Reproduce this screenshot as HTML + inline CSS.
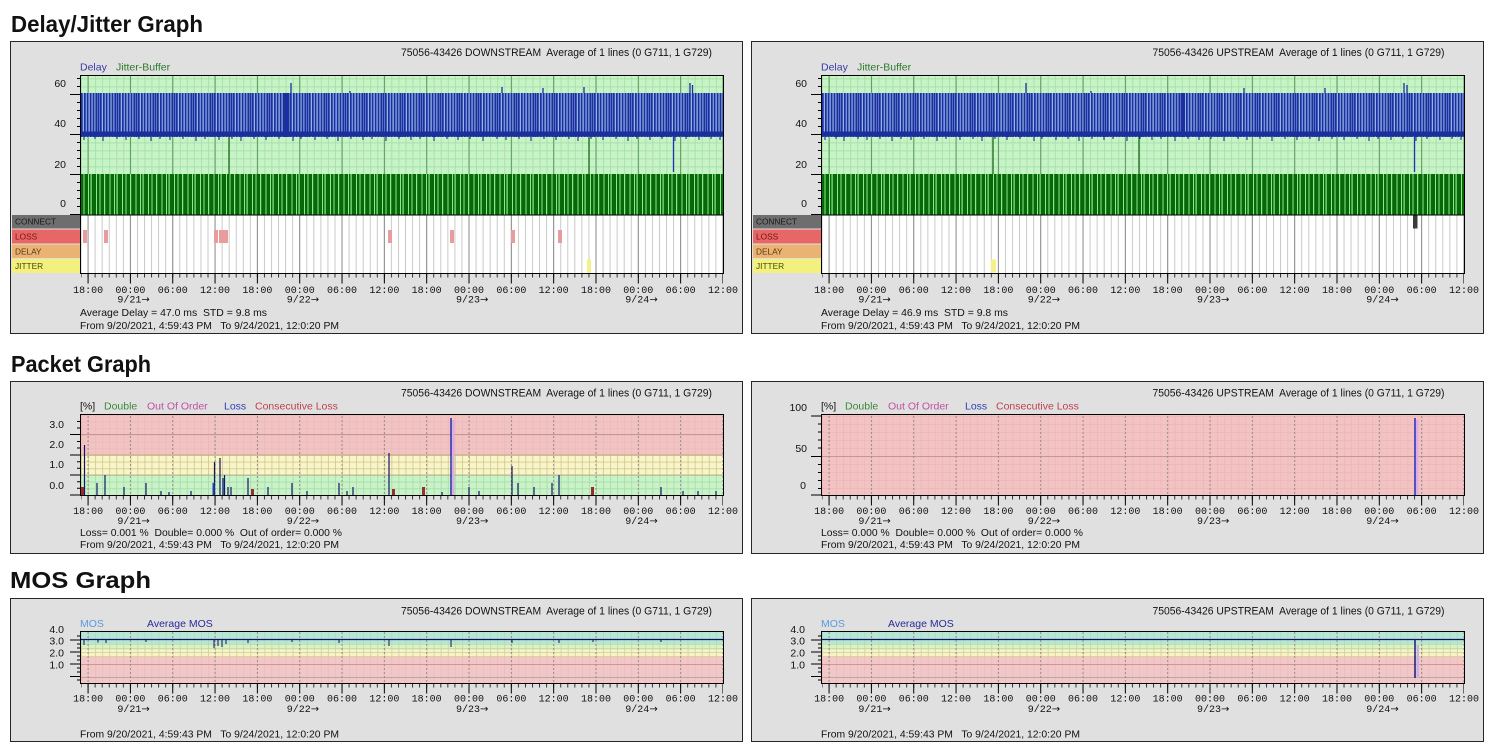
<!DOCTYPE html>
<html><head><meta charset="utf-8">
<style>
html,body{margin:0;padding:0;background:#fff;width:1494px;height:751px;overflow:hidden}
svg{display:block}
text{font-family:"Liberation Sans",Arial,sans-serif;font-size:10.5px;white-space:pre}
.t{font-weight:bold;font-size:23.5px}
.m text{font-family:"Liberation Mono","DejaVu Sans Mono",monospace;font-size:10px}
.ar{font-family:"DejaVu Sans","Liberation Sans",sans-serif;font-size:10px}
.hd{font-size:11px}
.sl{font-size:8.3px}
</style></head><body>
<svg width="1494" height="751" viewBox="0 0 1494 751" xmlns="http://www.w3.org/2000/svg">
<defs>
<pattern id="gG" patternUnits="userSpaceOnUse" x="81.03" y="78.5" width="7.0542" height="8"><rect width="8" height="8" fill="#c6f4c6"/><rect width="0.8" height="8" fill="#a6dca6"/><rect width="8" height="0.8" fill="#a6dca6"/></pattern>
<pattern id="mG" patternUnits="userSpaceOnUse" x="87.58" y="0" width="42.3252" height="10"><rect width="1" height="10" fill="#5c9a5c"/></pattern>
<pattern id="mS" patternUnits="userSpaceOnUse" x="87.58" y="0" width="42.3252" height="10"><rect width="1" height="10" fill="#8c8c8c"/></pattern>
<pattern id="mK" patternUnits="userSpaceOnUse" x="87.58" y="0" width="42.3252" height="10"><rect width="1" height="10" fill="#000"/></pattern>
<pattern id="mD" patternUnits="userSpaceOnUse" x="87.58" y="0" width="42.3252" height="4"><rect width="1" height="2" fill="#9c8c8c"/></pattern>
<pattern id="hS" patternUnits="userSpaceOnUse" x="80.53" y="0" width="7.0542" height="10"><rect width="1" height="10" fill="#c9c9c9"/></pattern>
<pattern id="hK" patternUnits="userSpaceOnUse" x="80.53" y="0" width="7.0542" height="10"><rect width="1" height="10" fill="#333"/></pattern>
<pattern id="gR" patternUnits="userSpaceOnUse" x="81.03" y="415" width="7.0542" height="6.67"><rect width="8" height="8" fill="#f2c3c3"/><rect width="0.7" height="8" fill="#ebb8b8"/><rect width="8" height="0.7" fill="#ebb8b8"/></pattern>
<pattern id="gY" patternUnits="userSpaceOnUse" x="81.03" y="455" width="7.0542" height="6.67"><rect width="8" height="8" fill="#f8f5c8"/><rect width="0.8" height="8" fill="#d2c58e"/><rect width="8" height="0.8" fill="#d2c58e"/></pattern>
<pattern id="gP" patternUnits="userSpaceOnUse" x="81.03" y="475" width="7.0542" height="6.67"><rect width="8" height="8" fill="#c7f3c7"/><rect width="0.8" height="8" fill="#a9d9a9"/><rect width="8" height="0.8" fill="#a9d9a9"/></pattern>
<pattern id="gR2" patternUnits="userSpaceOnUse" x="81.03" y="416" width="7.0542" height="8"><rect width="8" height="8" fill="#f3c3c3"/><rect width="0.7" height="8" fill="#eab6b6"/><rect width="8" height="0.7" fill="#eab6b6"/></pattern>
<pattern id="gMT" patternUnits="userSpaceOnUse" x="81.03" y="632" width="7.0542" height="4"><rect width="8" height="4" fill="#b7e7d4"/><rect width="0.7" height="4" fill="#a6d9c4"/></pattern>
<pattern id="gMG" patternUnits="userSpaceOnUse" x="81.03" y="644" width="7.0542" height="4"><rect width="8" height="4" fill="#dcf1c4"/><rect width="0.8" height="4" fill="#c2d8a4"/><rect width="8" height="0.8" fill="#c2d8a4"/></pattern>
<pattern id="gMY" patternUnits="userSpaceOnUse" x="81.03" y="644" width="7.0542" height="4"><rect width="8" height="4" fill="#f6f3c6"/><rect width="0.8" height="4" fill="#d8cc98"/><rect width="8" height="0.8" fill="#d8cc98"/></pattern>
<pattern id="gMP" patternUnits="userSpaceOnUse" x="81.03" y="657" width="7.0542" height="4"><rect width="8" height="4" fill="#f1c7c7"/><rect width="0.6" height="4" fill="#e9baba"/></pattern>
<pattern id="bl" patternUnits="userSpaceOnUse" x="81" y="0" width="19" height="10"><rect width="19" height="10" fill="#a9cdf3"/><path d="M0.8 0V10M3.8 0V10M6.6 0V10M9.6 0V10M12.5 0V10M15.3 0V10M17.6 0V10" stroke="#1b2f9e" stroke-width="1.9"/></pattern>
<pattern id="jt" patternUnits="userSpaceOnUse" x="81" y="0" width="26" height="10"><rect width="26" height="10" fill="#066806"/><rect x="2.5" width="1" height="10" fill="#8ee88e"/><rect x="7" width="1" height="10" fill="#8ee88e"/><rect x="9.5" width="1.2" height="10" fill="#8ee88e"/><rect x="15" width="1" height="10" fill="#8ee88e"/><rect x="18.5" width="1" height="10" fill="#8ee88e"/><rect x="23" width="1.2" height="10" fill="#8ee88e"/></pattern>

<g id="dBase">
<rect x="10.5" y="41.5" width="732" height="292" fill="#e0e0e0" stroke="#262626"/>
<rect x="81" y="76" width="642" height="139" fill="url(#gG)"/>
<rect x="81" y="76" width="642" height="139" fill="url(#mG)"/>
<rect x="81" y="93" width="642" height="44" fill="url(#bl)"/>
<rect x="81" y="131.5" width="642" height="5" fill="#1d2f9c"/>
<path d="M84 136v4M95 136v3M103 136v5M117 136v3M126 136v4M139 136v3M151 136v5M160 136v3M170 136v4M183 136v3M196 136v5M205 136v3M219 136v4M232 136v3M241 136v5M254 136v3M266 136v4M279 136v3M293 136v5M301 136v3M315 136v4M327 136v3M338 136v5M351 136v3M363 136v4M372 136v3M386 136v5M399 136v3M411 136v4M420 136v3M434 136v5M447 136v3M458 136v4M470 136v3M483 136v5M497 136v3M506 136v4M519 136v3M531 136v5M544 136v3M556 136v4M569 136v3M578 136v5M591 136v3M603 136v4M616 136v3M628 136v5M637 136v3M650 136v4M662 136v3M675 136v5M686 136v3M699 136v4M711 136v3M720 136v4" stroke="#1d2f9c" stroke-width="1.1"/>
<rect x="81" y="174" width="642" height="41" fill="url(#jt)"/>
<rect x="81" y="215" width="642" height="58" fill="#fff"/>
<rect x="81" y="215" width="642" height="58" fill="url(#hS)"/>
<rect x="81" y="215" width="642" height="58" fill="url(#mS)"/>
<rect x="12" y="215" width="68" height="13.5" fill="#6e6e6e"/>
<rect x="12" y="229.5" width="68" height="14" fill="#e76767"/>
<rect x="12" y="244.5" width="68" height="13.5" fill="#ebb373"/>
<rect x="12" y="259" width="68" height="14" fill="#f3f17e"/>
<rect x="80.5" y="75.5" width="643" height="198" fill="none" stroke="#000"/>
<path d="M81 215H723" stroke="#000"/>
<rect x="81" y="274" width="642" height="3.5" fill="url(#hK)"/>
<rect x="81" y="274" width="642" height="9.5" fill="url(#mK)"/>
<path d="M70 94.5H80M70 134.5H80M70 174.5H80M70 214.5H80" stroke="#000"/>
<path d="M77 78.5h3M77 86.5h3M77 102.5h3M77 110.5h3M77 118.5h3M77 126.5h3M77 142.5h3M77 150.5h3M77 158.5h3M77 166.5h3M77 182.5h3M77 190.5h3M77 198.5h3M77 206.5h3" stroke="#000"/>
</g>

<g id="pBase">
<rect x="10.5" y="381.5" width="732" height="172" fill="#e0e0e0" stroke="#262626"/>
<rect x="81" y="496" width="642" height="3.5" fill="url(#hK)"/>
<rect x="81" y="496" width="642" height="9.5" fill="url(#mK)"/>
</g>

<g id="mBase">
<rect x="10.5" y="598.5" width="732" height="143" fill="#e0e0e0" stroke="#262626"/>
<rect x="81" y="632" width="642" height="12" fill="url(#gMT)"/>
<rect x="81" y="644" width="642" height="6" fill="url(#gMG)"/>
<rect x="81" y="650" width="642" height="7" fill="url(#gMY)"/>
<rect x="81" y="657" width="642" height="26" fill="url(#gMP)"/>
<path d="M81 664.5H723" stroke="#d49494"/>
<path d="M81 677.5H723" stroke="#b8a6a6"/>
<rect x="81" y="632" width="642" height="51" fill="url(#mD)"/>
<path d="M81 639.5H723" stroke="#0e1460" stroke-width="1.3"/>
<rect x="80.5" y="631.5" width="643" height="52" fill="none" stroke="#000"/>
<rect x="81" y="684" width="642" height="3.5" fill="url(#hK)"/>
<rect x="81" y="684" width="642" height="9.5" fill="url(#mK)"/>
<path d="M70 640H80M70 652H80M70 664H80M70 676.5H80" stroke="#000"/>
<path d="M77 636h3M77 644h3M77 648h3M77 656h3M77 660h3M77 668h3M77 672h3M77 680h3" stroke="#000"/>
</g>
</defs>

<!-- Titles -->
<text class="t" x="11" y="32" textLength="192" lengthAdjust="spacingAndGlyphs" style="fill:#111">Delay/Jitter Graph</text>
<text class="t" x="11" y="372" textLength="140" lengthAdjust="spacingAndGlyphs" style="fill:#111">Packet Graph</text>
<text class="t" x="10" y="588" textLength="141" lengthAdjust="spacingAndGlyphs" style="fill:#111">MOS Graph</text>

<!-- ===== DELAY LEFT ===== -->
<g fill="#111">
<use href="#dBase"/>
<path d="M291 93V83M350 93V91M502 93V87M543 93V88M584 93V87M690 93V83M692.5 93V85" stroke="#1b2f9e" stroke-width="1.3"/>
<rect x="283" y="93" width="5" height="44" fill="#1b2f9e"/>
<path d="M229 137V174M589 137V174" stroke="#0b5e0b" stroke-width="1.2"/>
<path d="M673.5 137V172" stroke="#2233b0" stroke-width="1.3"/>
<g fill="#e89c9c"><rect x="83" y="230" width="4" height="13"/><rect x="104" y="230" width="4" height="13"/><rect x="214" y="230" width="4" height="13"/><rect x="219" y="230" width="9" height="13"/><rect x="388" y="230" width="4" height="13"/><rect x="450" y="230" width="4" height="13"/><rect x="511" y="230" width="4" height="13"/><rect x="558" y="230" width="4" height="13"/></g>
<rect x="587" y="259.5" width="4" height="13" fill="#f5f08a"/>
<text class="hd" x="556.5" y="56" text-anchor="middle" textLength="311" lengthAdjust="spacingAndGlyphs">75056-43426 DOWNSTREAM  Average of 1 lines (0 G711, 1 G729)</text>
<text x="80" y="70.5" style="fill:#3a3aa8">Delay</text>
<text x="116" y="70.5" style="fill:#2a7a2a">Jitter-Buffer</text>
<g text-anchor="end"><text x="66" y="87">60</text><text x="66" y="127">40</text><text x="66" y="168">20</text><text x="66" y="207">0</text></g>
<text class="sl" x="15" y="224.5" style="fill:#1a1a1a">CONNECT</text>
<text class="sl" x="15" y="239.5" style="fill:#7a1010">LOSS</text>
<text class="sl" x="15" y="254.5" style="fill:#5a3a10">DELAY</text>
<text class="sl" x="15" y="269" style="fill:#4a4a00">JITTER</text>
<g class="m" text-anchor="middle" transform="translate(0,293)"><text x="88.08" y="0">18:00</text><text x="130.41" y="0">00:00</text><text x="172.73" y="0">06:00</text><text x="215.06" y="0">12:00</text><text x="257.39" y="0">18:00</text><text x="299.71" y="0">00:00</text><text x="342.04" y="0">06:00</text><text x="384.36" y="0">12:00</text><text x="426.69" y="0">18:00</text><text x="469.01" y="0">00:00</text><text x="511.34" y="0">06:00</text><text x="553.66" y="0">12:00</text><text x="595.99" y="0">18:00</text><text x="638.31" y="0">00:00</text><text x="680.64" y="0">06:00</text><text x="722.96" y="0">12:00</text></g>
<g class="m" transform="translate(0,302.5)"><text x="117.4" y="0">9/21<tspan class="ar">→</tspan></text><text x="286.7" y="0">9/22<tspan class="ar">→</tspan></text><text x="456" y="0">9/23<tspan class="ar">→</tspan></text><text x="625.3" y="0">9/24<tspan class="ar">→</tspan></text></g>
<text x="80" y="316" textLength="187" lengthAdjust="spacingAndGlyphs">Average Delay = 47.0 ms  STD = 9.8 ms</text>
<text x="80" y="329" textLength="259" lengthAdjust="spacingAndGlyphs">From 9/20/2021, 4:59:43 PM   To 9/24/2021, 12:0:20 PM</text>
</g>

<!-- ===== DELAY RIGHT ===== -->
<g transform="translate(741,0)" fill="#111">
<use href="#dBase"/>
<path d="M285 93V83M350 93V91M503 93V88M584 93V88M663 93V83M666 93V85" stroke="#1b2f9e" stroke-width="1.3"/>
<rect x="440" y="93" width="4" height="44" fill="#1b2f9e"/>
<path d="M252 137V174M398 137V174" stroke="#0b5e0b" stroke-width="1.2"/>
<path d="M673.5 137V172" stroke="#2233b0" stroke-width="1.3"/>
<rect x="672" y="215.5" width="4.5" height="13" fill="#3c3c3c"/>
<rect x="250" y="259.5" width="5" height="13" fill="#f5f08a"/>
<text class="hd" x="557.5" y="56" text-anchor="middle" textLength="292" lengthAdjust="spacingAndGlyphs">75056-43426 UPSTREAM  Average of 1 lines (0 G711, 1 G729)</text>
<text x="80" y="70.5" style="fill:#3a3aa8">Delay</text>
<text x="116" y="70.5" style="fill:#2a7a2a">Jitter-Buffer</text>
<g text-anchor="end"><text x="66" y="87">60</text><text x="66" y="127">40</text><text x="66" y="168">20</text><text x="66" y="207">0</text></g>
<text class="sl" x="15" y="224.5" style="fill:#1a1a1a">CONNECT</text>
<text class="sl" x="15" y="239.5" style="fill:#7a1010">LOSS</text>
<text class="sl" x="15" y="254.5" style="fill:#5a3a10">DELAY</text>
<text class="sl" x="15" y="269" style="fill:#4a4a00">JITTER</text>
<g class="m" text-anchor="middle" transform="translate(0,293)"><text x="88.08" y="0">18:00</text><text x="130.41" y="0">00:00</text><text x="172.73" y="0">06:00</text><text x="215.06" y="0">12:00</text><text x="257.39" y="0">18:00</text><text x="299.71" y="0">00:00</text><text x="342.04" y="0">06:00</text><text x="384.36" y="0">12:00</text><text x="426.69" y="0">18:00</text><text x="469.01" y="0">00:00</text><text x="511.34" y="0">06:00</text><text x="553.66" y="0">12:00</text><text x="595.99" y="0">18:00</text><text x="638.31" y="0">00:00</text><text x="680.64" y="0">06:00</text><text x="722.96" y="0">12:00</text></g>
<g class="m" transform="translate(0,302.5)"><text x="117.4" y="0">9/21<tspan class="ar">→</tspan></text><text x="286.7" y="0">9/22<tspan class="ar">→</tspan></text><text x="456" y="0">9/23<tspan class="ar">→</tspan></text><text x="625.3" y="0">9/24<tspan class="ar">→</tspan></text></g>
<text x="80" y="316" textLength="187" lengthAdjust="spacingAndGlyphs">Average Delay = 46.9 ms  STD = 9.8 ms</text>
<text x="80" y="329" textLength="259" lengthAdjust="spacingAndGlyphs">From 9/20/2021, 4:59:43 PM   To 9/24/2021, 12:0:20 PM</text>
</g>

<!-- ===== PACKET LEFT ===== -->
<g fill="#111">
<use href="#pBase"/>
<rect x="81" y="415" width="642" height="40" fill="url(#gR)"/>
<rect x="81" y="455" width="642" height="20" fill="url(#gY)"/>
<rect x="81" y="475" width="642" height="20" fill="url(#gP)"/>
<path d="M81 434.5H723" stroke="#c89494"/>
<path d="M81 455H723M81 475H723" stroke="#b8a070" stroke-width="0.8"/>
<rect x="81" y="415" width="642" height="80" fill="url(#mD)"/>
<rect x="452" y="420" width="2.5" height="75" fill="#d8b0e0"/>
<path d="M84.5 495V445M97 495V483M105 495V475M124 495V487M146 495V483M161 495V491M169 495V492M191 495V491M214.5 495V462M220 495V458M223 495V478M224.5 495V475M228 495V487M231 495V487M248 495V478M268 495V487M292 495V483M307 495V491M339 495V483M347 495V491M353 495V487M389 495V453M442 495V492M469 495V487M479 495V491M512 495V466M518 495V483M534 495V487M552 495V483M559 495V475M661 495V487M683 495V491M698 495V491M716 495V491" stroke="#14146e" stroke-width="1.2"/>
<path d="M451 495V418" stroke="#2a2ab0" stroke-width="1.5"/>
<rect x="212.5" y="483" width="2" height="12" fill="#2a3ac0"/>
<g fill="#9a2a30"><rect x="81" y="487" width="3" height="8"/><rect x="251" y="489" width="3" height="6"/><rect x="392" y="489" width="3" height="6"/><rect x="422" y="487" width="3" height="8"/><rect x="591" y="487" width="3" height="8"/></g>
<rect x="80.5" y="414.5" width="643" height="81" fill="none" stroke="#000"/>
<path d="M70 434.5H80M70 455H80M70 475H80M70 495H80" stroke="#000"/>
<path d="M77 421.5h3M77 428h3M77 441.5h3M77 448h3M77 461.7h3M77 468.3h3M77 481.7h3M77 488.3h3" stroke="#000"/>
<text class="hd" x="556.5" y="396.5" text-anchor="middle" textLength="311" lengthAdjust="spacingAndGlyphs">75056-43426 DOWNSTREAM  Average of 1 lines (0 G711, 1 G729)</text>
<text x="80" y="409.5">[%]</text>
<text x="104" y="409.5" style="fill:#3a8a3a">Double</text>
<text x="147" y="409.5" style="fill:#c050a0">Out Of Order</text>
<text x="224" y="409.5" style="fill:#3040b0">Loss</text>
<text x="255" y="409.5" style="fill:#c04050">Consecutive Loss</text>
<g text-anchor="end"><text x="64" y="428">3.0</text><text x="64" y="448">2.0</text><text x="64" y="468">1.0</text><text x="64" y="489">0.0</text></g>
<g class="m" text-anchor="middle" transform="translate(0,514)"><text x="88.08" y="0">18:00</text><text x="130.41" y="0">00:00</text><text x="172.73" y="0">06:00</text><text x="215.06" y="0">12:00</text><text x="257.39" y="0">18:00</text><text x="299.71" y="0">00:00</text><text x="342.04" y="0">06:00</text><text x="384.36" y="0">12:00</text><text x="426.69" y="0">18:00</text><text x="469.01" y="0">00:00</text><text x="511.34" y="0">06:00</text><text x="553.66" y="0">12:00</text><text x="595.99" y="0">18:00</text><text x="638.31" y="0">00:00</text><text x="680.64" y="0">06:00</text><text x="722.96" y="0">12:00</text></g>
<g class="m" transform="translate(0,524)"><text x="117.4" y="0">9/21<tspan class="ar">→</tspan></text><text x="286.7" y="0">9/22<tspan class="ar">→</tspan></text><text x="456" y="0">9/23<tspan class="ar">→</tspan></text><text x="625.3" y="0">9/24<tspan class="ar">→</tspan></text></g>
<text x="80" y="536" textLength="262" lengthAdjust="spacingAndGlyphs">Loss= 0.001 %  Double= 0.000 %  Out of order= 0.000 %</text>
<text x="80" y="548" textLength="259" lengthAdjust="spacingAndGlyphs">From 9/20/2021, 4:59:43 PM   To 9/24/2021, 12:0:20 PM</text>
</g>

<!-- ===== PACKET RIGHT ===== -->
<g transform="translate(741,0)" fill="#111">
<use href="#pBase"/>
<rect x="81" y="415" width="642" height="80" fill="url(#gR2)"/>
<path d="M81 456.5H723" stroke="#c89494"/>
<rect x="81" y="415" width="642" height="80" fill="url(#mD)"/>
<rect x="675" y="420" width="2.5" height="75" fill="#d8b0e0"/>
<path d="M674 495V418" stroke="#2a2ac0" stroke-width="1.5"/>
<rect x="80.5" y="414.5" width="643" height="81" fill="none" stroke="#000"/>
<path d="M70 416H80M70 456.5H80M70 495H80" stroke="#000"/>
<path d="M77 424h3M77 432h3M77 440h3M77 448h3M77 464.5h3M77 472.5h3M77 480.5h3M77 488.5h3" stroke="#000"/>
<text class="hd" x="557.5" y="396.5" text-anchor="middle" textLength="292" lengthAdjust="spacingAndGlyphs">75056-43426 UPSTREAM  Average of 1 lines (0 G711, 1 G729)</text>
<text x="80" y="409.5">[%]</text>
<text x="104" y="409.5" style="fill:#3a8a3a">Double</text>
<text x="147" y="409.5" style="fill:#c050a0">Out Of Order</text>
<text x="224" y="409.5" style="fill:#3040b0">Loss</text>
<text x="255" y="409.5" style="fill:#c04050">Consecutive Loss</text>
<g text-anchor="end"><text x="66" y="411">100</text><text x="66" y="452">50</text><text x="65" y="489">0</text></g>
<g class="m" text-anchor="middle" transform="translate(0,514)"><text x="88.08" y="0">18:00</text><text x="130.41" y="0">00:00</text><text x="172.73" y="0">06:00</text><text x="215.06" y="0">12:00</text><text x="257.39" y="0">18:00</text><text x="299.71" y="0">00:00</text><text x="342.04" y="0">06:00</text><text x="384.36" y="0">12:00</text><text x="426.69" y="0">18:00</text><text x="469.01" y="0">00:00</text><text x="511.34" y="0">06:00</text><text x="553.66" y="0">12:00</text><text x="595.99" y="0">18:00</text><text x="638.31" y="0">00:00</text><text x="680.64" y="0">06:00</text><text x="722.96" y="0">12:00</text></g>
<g class="m" transform="translate(0,524)"><text x="117.4" y="0">9/21<tspan class="ar">→</tspan></text><text x="286.7" y="0">9/22<tspan class="ar">→</tspan></text><text x="456" y="0">9/23<tspan class="ar">→</tspan></text><text x="625.3" y="0">9/24<tspan class="ar">→</tspan></text></g>
<text x="80" y="536" textLength="262" lengthAdjust="spacingAndGlyphs">Loss= 0.000 %  Double= 0.000 %  Out of order= 0.000 %</text>
<text x="80" y="548" textLength="259" lengthAdjust="spacingAndGlyphs">From 9/20/2021, 4:59:43 PM   To 9/24/2021, 12:0:20 PM</text>
</g>

<!-- ===== MOS LEFT ===== -->
<g fill="#111">
<use href="#mBase"/>
<path d="M84 640V645M98 640V642.5M106 640V643M146 640V642M214 640V648M218 640V646M222 640V647M226 640V644M248 640V643M292 640V642M339 640V643M389 640V646M451 640V647M512 640V643M559 640V643M593 640V642M661 640V642" stroke="#101060" stroke-width="1"/>
<text class="hd" x="556.5" y="614.5" text-anchor="middle" textLength="311" lengthAdjust="spacingAndGlyphs">75056-43426 DOWNSTREAM  Average of 1 lines (0 G711, 1 G729)</text>
<text x="80" y="627" style="fill:#5a9ae0">MOS</text>
<text x="147" y="627" style="fill:#2a2a9a">Average MOS</text>
<g text-anchor="end"><text x="64" y="633">4.0</text><text x="64" y="644.5">3.0</text><text x="64" y="656.5">2.0</text><text x="64" y="668.5">1.0</text></g>
<g class="m" text-anchor="middle" transform="translate(0,701.5)"><text x="88.08" y="0">18:00</text><text x="130.41" y="0">00:00</text><text x="172.73" y="0">06:00</text><text x="215.06" y="0">12:00</text><text x="257.39" y="0">18:00</text><text x="299.71" y="0">00:00</text><text x="342.04" y="0">06:00</text><text x="384.36" y="0">12:00</text><text x="426.69" y="0">18:00</text><text x="469.01" y="0">00:00</text><text x="511.34" y="0">06:00</text><text x="553.66" y="0">12:00</text><text x="595.99" y="0">18:00</text><text x="638.31" y="0">00:00</text><text x="680.64" y="0">06:00</text><text x="722.96" y="0">12:00</text></g>
<g class="m" transform="translate(0,712)"><text x="117.4" y="0">9/21<tspan class="ar">→</tspan></text><text x="286.7" y="0">9/22<tspan class="ar">→</tspan></text><text x="456" y="0">9/23<tspan class="ar">→</tspan></text><text x="625.3" y="0">9/24<tspan class="ar">→</tspan></text></g>
<text x="80" y="737.5" textLength="259" lengthAdjust="spacingAndGlyphs">From 9/20/2021, 4:59:43 PM   To 9/24/2021, 12:0:20 PM</text>
</g>

<!-- ===== MOS RIGHT ===== -->
<g transform="translate(741,0)" fill="#111">
<use href="#mBase"/>
<rect x="675.5" y="645" width="2.5" height="33" fill="#c8b0e8"/>
<path d="M674 639V678" stroke="#1a1a70" stroke-width="1.5"/>
<text class="hd" x="557.5" y="614.5" text-anchor="middle" textLength="292" lengthAdjust="spacingAndGlyphs">75056-43426 UPSTREAM  Average of 1 lines (0 G711, 1 G729)</text>
<text x="80" y="627" style="fill:#5a9ae0">MOS</text>
<text x="147" y="627" style="fill:#2a2a9a">Average MOS</text>
<g text-anchor="end"><text x="64" y="633">4.0</text><text x="64" y="644.5">3.0</text><text x="64" y="656.5">2.0</text><text x="64" y="668.5">1.0</text></g>
<g class="m" text-anchor="middle" transform="translate(0,701.5)"><text x="88.08" y="0">18:00</text><text x="130.41" y="0">00:00</text><text x="172.73" y="0">06:00</text><text x="215.06" y="0">12:00</text><text x="257.39" y="0">18:00</text><text x="299.71" y="0">00:00</text><text x="342.04" y="0">06:00</text><text x="384.36" y="0">12:00</text><text x="426.69" y="0">18:00</text><text x="469.01" y="0">00:00</text><text x="511.34" y="0">06:00</text><text x="553.66" y="0">12:00</text><text x="595.99" y="0">18:00</text><text x="638.31" y="0">00:00</text><text x="680.64" y="0">06:00</text><text x="722.96" y="0">12:00</text></g>
<g class="m" transform="translate(0,712)"><text x="117.4" y="0">9/21<tspan class="ar">→</tspan></text><text x="286.7" y="0">9/22<tspan class="ar">→</tspan></text><text x="456" y="0">9/23<tspan class="ar">→</tspan></text><text x="625.3" y="0">9/24<tspan class="ar">→</tspan></text></g>
<text x="80" y="737.5" textLength="259" lengthAdjust="spacingAndGlyphs">From 9/20/2021, 4:59:43 PM   To 9/24/2021, 12:0:20 PM</text>
</g>
</svg>
</body></html>
